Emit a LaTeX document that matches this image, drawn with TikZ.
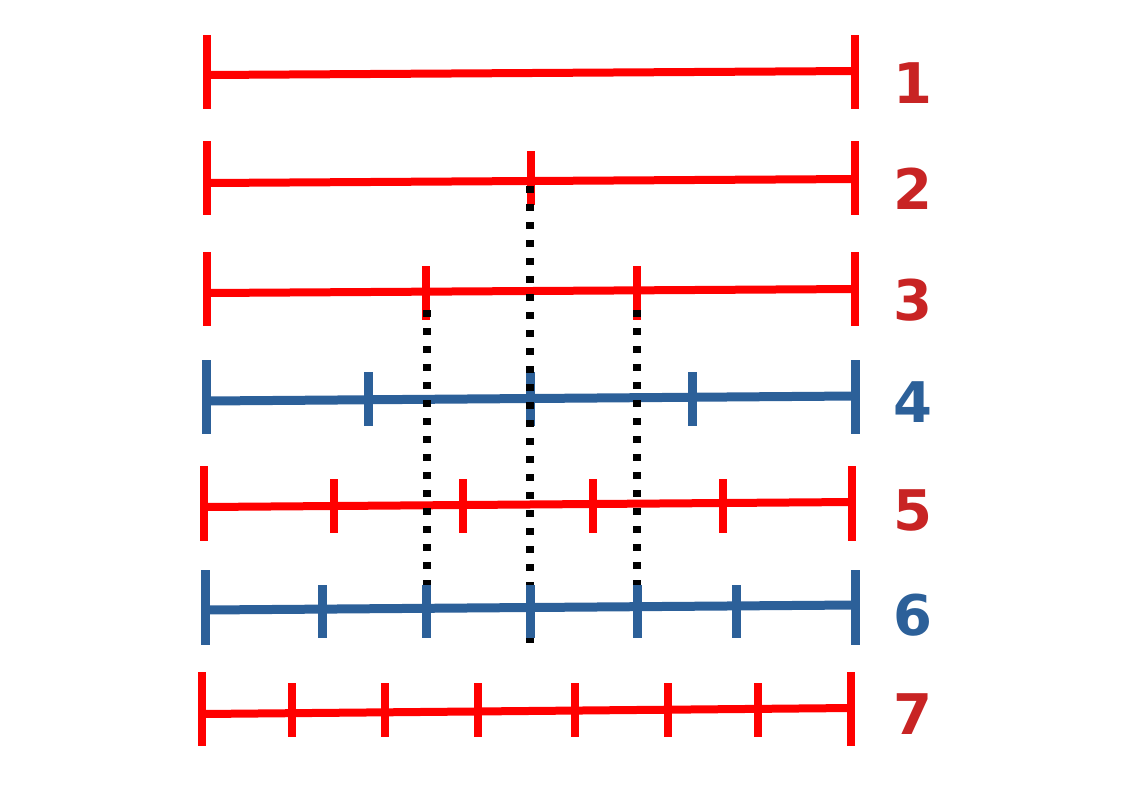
\documentclass[tikz,border=0pt]{standalone}
\usepackage{fontspec}
\setmainfont{DejaVu Sans}
\usetikzlibrary{calc}
\definecolor{barred}{RGB}{255,0,0}
\definecolor{barblue}{RGB}{44,96,153}
\definecolor{numred}{RGB}{200,36,36}
\tikzstyle{redbar} = [draw=barred, line width=6pt]
\tikzstyle{bluebar} = [draw=barblue, line width=6.75pt]
\tikzstyle{guide} = [draw=black, line width=5.6pt, dash pattern=on 5.6pt off 7.9pt]
\tikzstyle{num} = [font=\bfseries\fontsize{42}{42}\selectfont, inner sep=0pt]

\begin{document}
\begin{tikzpicture}[x=0.75pt, y=-0.75pt]
		\useasboundingbox (0,0) rectangle (1123,794);
		% row 1
		\coordinate (r1l) at (207,75); \coordinate (r1r) at (855,71);
		\draw [redbar] (r1l) -- (r1r);
		\draw [redbar] (207,35) -- (207,109);
		\draw [redbar] (855,35) -- (855,109);
		\node (n1) [num, text=numred] at (913,83) {1};
		% row 2
		\coordinate (r2l) at (207,183); \coordinate (r2r) at (855,179);
		\draw [redbar] (r2l) -- (r2r);
		\draw [redbar] (207,141) -- (207,215);
		\draw [redbar] (855,141) -- (855,215);
		\draw [redbar] (531,151) -- (531,205);
		\node (n2) [num, text=numred] at (913,189) {2};
		% row 3
		\coordinate (r3l) at (207,293); \coordinate (r3r) at (855,289);
		\draw [redbar] (r3l) -- (r3r);
		\draw [redbar] (207,252) -- (207,326);
		\draw [redbar] (855,252) -- (855,326);
		\foreach \x in {426,637}
			\draw [redbar] (\x,266) -- (\x,320);
		\node (n3) [num, text=numred] at (913,300) {3};
		% row 4
		\coordinate (r4l) at (206,401); \coordinate (r4r) at (855,396);
		\draw [bluebar] (r4l) -- (r4r);
		\draw [bluebar] (206,360) -- (206,434);
		\draw [bluebar] (855,360) -- (855,434);
		\foreach \x in {368,530,692}
			\draw [bluebar] (\x,372) -- (\x,426);
		\node (n4) [num, text=barblue] at (913,402) {4};
		% row 5
		\coordinate (r5l) at (204,507); \coordinate (r5r) at (852,502);
		\draw [redbar] (r5l) -- (r5r);
		\draw [redbar] (204,466) -- (204,541);
		\draw [redbar] (852,466) -- (852,541);
		\foreach \x in {334,463,593,723}
			\draw [redbar] (\x,479) -- (\x,533);
		\node (n5) [num, text=numred] at (913,510) {5};
		% dotted guides
		\coordinate (g1a) at (427,310); \coordinate (g1b) at (427,638);
		\coordinate (g2a) at (530,186); \coordinate (g2b) at (530,648);
		\coordinate (g3a) at (637,310); \coordinate (g3b) at (637,638);
		\draw [guide] (g1a) -- (g1b);
		\draw [guide] (g2a) -- (g2b);
		\draw [guide] (g3a) -- (g3b);
		% row 6
		\coordinate (r6l) at (205,610); \coordinate (r6r) at (855,605);
		\draw [bluebar] (r6l) -- (r6r);
		\draw [bluebar] (205,570) -- (205,645);
		\draw [bluebar] (855,570) -- (855,645);
		\foreach \x in {322,426,530,637,736}
			\draw [bluebar] (\x,585) -- (\x,638);
		\node (n6) [num, text=barblue] at (913,615) {6};
		% row 7
		\coordinate (r7l) at (202,714); \coordinate (r7r) at (851,708);
		\draw [redbar] (r7l) -- (r7r);
		\draw [redbar] (202,672) -- (202,746);
		\draw [redbar] (851,672) -- (851,746);
		\foreach \x in {292,385,478,575,668,758}
			\draw [redbar] (\x,683) -- (\x,737);
		\node (n7) [num, text=numred] at (913,714) {7};
\end{tikzpicture}
\end{document}
